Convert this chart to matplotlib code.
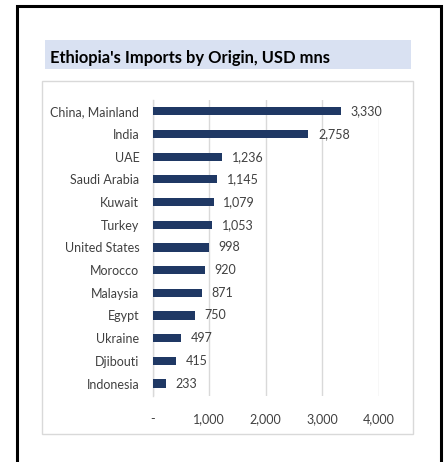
import matplotlib
matplotlib.use("Agg")
import matplotlib.pyplot as plt
from matplotlib.patches import Rectangle
from matplotlib.ticker import FuncFormatter

countries = ["China, Mainland", "India", "UAE", "Saudi Arabia", "Kuwait", "Turkey",
             "United States", "Morocco", "Malaysia", "Egypt", "Ukraine", "Djibouti",
             "Indonesia"]
imports_usd_mn = [3330, 2758, 1236, 1145, 1079, 1053, 998, 920, 871, 750, 497, 415, 233]
x_ticks = [0, 1000, 2000, 3000, 4000]
title = "Ethiopia's Imports by Origin, USD mns"

W, H = 445, 462
plt.rcParams["font.family"] = ["Lato", "DejaVu Sans"]
fig = plt.figure(figsize=(W / 100, H / 100), dpi=100)
fig.patch.set_facecolor("white")


def fx(px):
    return px / W


def fy(py):
    return 1 - py / H


# outer black frame
fig.add_artist(Rectangle((fx(17), fy(470)), fx(441) - fx(17), fy(6) - fy(470),
                         transform=fig.transFigure, fill=False, edgecolor="black",
                         linewidth=2.2, clip_on=False))
# title band
fig.add_artist(Rectangle((fx(45), fy(68.5)), fx(411) - fx(45), fy(40) - fy(68.5),
                         transform=fig.transFigure, facecolor="#D9E1F2",
                         edgecolor="none"))
fig.text(fx(49.5), fy(63), title, fontsize=11.9, fontweight="bold",
         color="#000000", ha="left", va="baseline")
# chart area border
fig.add_artist(Rectangle((fx(41.5), fy(433.5)), fx(412.5) - fx(41.5), fy(80.5) - fy(433.5),
                         transform=fig.transFigure, fill=False, edgecolor="#D9D9D9",
                         linewidth=1.0))

ax = fig.add_axes([fx(152.5), fy(396), fx(378.7) - fx(152.5), fy(100) - fy(396)])
ypos = list(range(len(countries)))
bars = ax.barh(ypos, imports_usd_mn, height=0.36, color="#1F3864", zorder=3)
ax.set_ylim(len(countries) - 0.45, -0.5)
ax.set_xlim(0, 4000)
ax.set_yticks(ypos)
ax.set_yticklabels(countries)
ax.set_xticks(x_ticks)
ax.xaxis.set_major_formatter(FuncFormatter(lambda v, p: "-" if v == 0 else f"{v:,.0f}"))
ax.grid(axis="x", color="#D9D9D9", linewidth=1.0, zorder=0)
for s in ["top", "right", "bottom"]:
    ax.spines[s].set_visible(False)
ax.spines["left"].set_color("#D9D9D9")
ax.spines["left"].set_linewidth(1.0)
ax.tick_params(axis="both", length=0, labelsize=9, labelcolor="#404040")
ax.tick_params(axis="y", pad=9.5)
ax.tick_params(axis="x", pad=12)
ax.bar_label(bars, labels=[f"{v:,}" for v in imports_usd_mn], padding=7,
             fontsize=9, color="#404040")

fig.savefig("out.png", dpi=100)
